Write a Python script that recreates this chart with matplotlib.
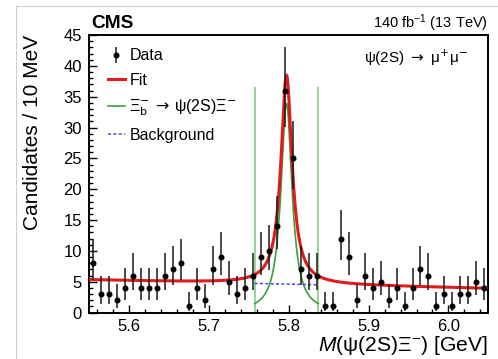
import numpy as np
import matplotlib
matplotlib.use('Agg')
import matplotlib.pyplot as plt
from matplotlib.lines import Line2D
from matplotlib.ticker import MultipleLocator

plt.rcParams['font.family'] = ['Liberation Sans', 'DejaVu Sans']
plt.rcParams['mathtext.fontset'] = 'custom'
plt.rcParams['mathtext.rm'] = 'Liberation Sans'
plt.rcParams['mathtext.it'] = 'Liberation Sans:italic'
plt.rcParams['mathtext.bf'] = 'Liberation Sans:bold'

# Data: 10 MeV bins from 5.55 to 6.05 GeV
bin_centers = np.round(5.555 + 0.01 * np.arange(50), 3)
counts = np.array([8, 3, 3, 2, 4, 6, 4, 4, 4, 6, 7, 8, 1, 4, 2, 7, 9, 5, 3, 4,
                   6, 9, 10, 14, 36, 25, 7, 6, 6, 1, 1, 12, 9, 2, 6, 4, 5, 2, 4, 1,
                   4, 7, 6, 1, 3, 1, 3, 3, 5, 4])

# Fit parameters
peak_mass = 5.797
peak_width = 0.0084
peak_height = 33.9
bkg_at_5p8 = 4.6
bkg_slope = -2.8
window = [5.757, 5.837]
window_line_top = 36.5


def signal(m):
    return peak_height / (1 + ((m - peak_mass) / peak_width) ** 2)


def background(m):
    return bkg_at_5p8 + bkg_slope * (m - 5.8)


# approximate Garwood (68%) Poisson intervals
n = counts.astype(float)
err_lo = np.where(n > 0, n - n * (1 - 1 / (9 * np.maximum(n, 1)) - 1 / (3 * np.sqrt(np.maximum(n, 1)))) ** 3, 0)
err_hi = (n + 1) * (1 - 1 / (9 * (n + 1)) + 1 / (3 * np.sqrt(n + 1))) ** 3 - n

fig = plt.figure(figsize=(4.98, 3.59), dpi=100)
ax = fig.add_axes([0.1797, 0.1295, 0.8008, 0.773])

m_all = np.linspace(5.55, 6.05, 1500)
m_win = np.linspace(window[0], window[1], 500)

fit_line, = ax.plot(m_all, background(m_all) + signal(m_all), color='#e31a1c', lw=2.2, zorder=4)
ax.vlines(window, 0, window_line_top, color='#8fd18f', lw=1.3, zorder=2)
sig_line, = ax.plot(m_win, signal(m_win), color='#3d9e3d', lw=1.2, zorder=3)
bkg_line, = ax.plot(m_win, background(m_win), color='#4a4ae0', lw=1.1,
                    ls=(0, (2, 1.5)), zorder=3)
data = ax.errorbar(bin_centers, counts, yerr=[err_lo, err_hi], fmt='o', ms=3.3,
                   color='black', ecolor='#1a1a1a', elinewidth=1.1, capsize=0, zorder=5)

ax.set_xlim(5.55, 6.05)
ax.set_ylim(0, 45)
ax.xaxis.set_major_locator(MultipleLocator(0.1))
ax.xaxis.set_minor_locator(MultipleLocator(0.02))
ax.yaxis.set_major_locator(MultipleLocator(5))
ax.yaxis.set_minor_locator(MultipleLocator(1))
ax.tick_params(which='both', direction='in', top=False, right=False, width=1.0)
ax.tick_params(which='major', length=5.5, labelsize=12)
ax.tick_params(axis='x', which='major', pad=5)
ax.tick_params(axis='y', which='major', pad=5.5)
ax.tick_params(which='minor', length=3)
for s in ax.spines.values():
    s.set_linewidth(1.4)

ax.set_xlabel(r'$\mathit{M}$(ψ(2S)Ξ$^{-}$) [GeV]', fontsize=15.2, loc='right', labelpad=0)
ax.set_ylabel('Candidates / 10 MeV', fontsize=15, loc='top', labelpad=15)

ax.text(0.005, 1.024, 'CMS', transform=ax.transAxes, fontsize=13.8,
        fontweight='bold', ha='left', va='baseline')
ax.text(1.0, 1.027, r'140 fb$^{-1}$ (13 TeV)', transform=ax.transAxes,
        fontsize=10.5, ha='right', va='baseline')
ax.text(0.949, 0.898, r'ψ(2S) $\rightarrow$ μ$^{+}$μ$^{-}$', transform=ax.transAxes,
        fontsize=11, ha='right', va='baseline', math_fontfamily='dejavusans')

leg = ax.legend([data, fit_line, sig_line, bkg_line],
                ['Data', 'Fit', r'Ξ$_{\mathrm{b}}^{-}\,\rightarrow\,$ψ(2S)Ξ$^{-}$', 'Background'],
                loc='upper left', bbox_to_anchor=(0.046, 0.952), frameon=False,
                fontsize=11.5, handlelength=1.05, handletextpad=0.3, labelspacing=0.6,
                borderpad=0, borderaxespad=0)
leg.get_texts()[2].set_math_fontfamily('dejavusans')

# page border visible in the reference
fig.add_artist(Line2D([16 / 498, 16 / 498], [0, 1 - 6 / 359], color='#d0d0d0', lw=0.8))
fig.add_artist(Line2D([16 / 498, 1], [1 - 6 / 359, 1 - 6 / 359], color='#d0d0d0', lw=0.8))

fig.savefig('out.png', dpi=100)
